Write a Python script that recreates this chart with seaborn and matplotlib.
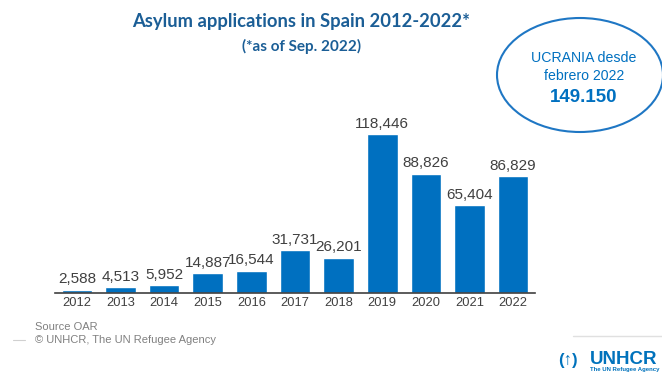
import matplotlib
matplotlib.use("Agg")
import matplotlib.pyplot as plt
import seaborn as sns
import pandas as pd
from matplotlib.patches import Ellipse

years = ["2012", "2013", "2014", "2015", "2016", "2017", "2018", "2019", "2020", "2021", "2022"]
applications = [2588, 4513, 5952, 14887, 16544, 31731, 26201, 118446, 88826, 65404, 86829]
value_labels = ["2,588", "4,513", "5,952", "14,887", "16,544", "31,731", "26,201",
                "118,446", "88,826", "65,404", "86,829"]

sns.set_theme(style="white")
plt.rcParams['font.family'] = ['Liberation Sans', 'DejaVu Sans']

df = pd.DataFrame({"year": years, "apps": applications})

fig = plt.figure(figsize=(6.62, 3.76), dpi=100)
ax = fig.add_axes([55/662, 83/376, 480/662, 188/376])
sns.barplot(data=df, x="year", y="apps", color="#0070C0", saturation=1, width=0.7, ax=ax)
ax.set_xlim(-0.5, 10.5)
ax.set_ylim(0, 140000)
ax.set_xlabel("")
ax.set_ylabel("")
ax.set_yticks([])
for s in ["top", "right", "left"]:
    ax.spines[s].set_visible(False)
ax.spines["bottom"].set_color("#404040")
ax.spines["bottom"].set_linewidth(1.2)
ax.tick_params(axis="x", length=0, pad=3, labelsize=9.3, labelcolor="#404040")

for i, (v, lab) in enumerate(zip(applications, value_labels)):
    ax.text(i, v + 2500, lab, ha="center", va="bottom", fontsize=11, color="#404040")

fig.text(301/662, 1 - 22/376, "Asylum applications in Spain 2012-2022*", ha="center", va="center",
         fontsize=13.2, fontweight="bold", color="#1B5E96", family=["Lato", "DejaVu Sans"])
fig.text(302/662, 1 - 46/376, "(*as of Sep. 2022)", ha="center", va="center",
         fontsize=11, fontweight="bold", color="#1B5E96", family=["Lato", "DejaVu Sans"])

ell = Ellipse((580/662, 1 - 75/376), 166/662, 114/376, transform=fig.transFigure,
              fill=False, edgecolor="#1F77C4", linewidth=1.5)
fig.patches.append(ell)
fig.text(584/662, 1 - 58/376, "UCRANIA desde", ha="center", va="center", fontsize=10.2, color="#0070C0")
fig.text(584/662, 1 - 76/376, "febrero 2022", ha="center", va="center", fontsize=10.2, color="#0070C0")
fig.text(584/662, 1 - 97/376, "149.150", ha="center", va="center", fontsize=13.5,
         fontweight="bold", color="#0070C0")

fig.text(35/662, 1 - 327/376, "Source OAR", ha="left", va="center", fontsize=8, color="#808080")
fig.text(35/662, 1 - 340/376, "\u00a9 UNHCR, The UN Refugee Agency", ha="left", va="center",
         fontsize=8, color="#808080")
fig.add_artist(plt.Line2D([13/662, 25/662], [1 - 340/376, 1 - 340/376], color="#d0d0d0",
                          linewidth=0.8, transform=fig.transFigure))
fig.add_artist(plt.Line2D([573/662, 662/662], [1 - 336/376, 1 - 336/376], color="#e0e0e0",
                          linewidth=1, transform=fig.transFigure))
fig.text(590/662, 1 - 359/376, "UNHCR", ha="left", va="center", fontsize=13.5, fontweight="bold",
         color="#0072BC")
fig.text(590/662, 1 - 370/376, "The UN Refugee Agency", ha="left", va="center", fontsize=4.3,
         fontweight="bold", color="#0072BC")
fig.text(568/662, 1 - 360/376, "(\u2191)", ha="center", va="center", fontsize=12, fontweight="bold",
         color="#0072BC")

fig.savefig("out.png", dpi=100)
